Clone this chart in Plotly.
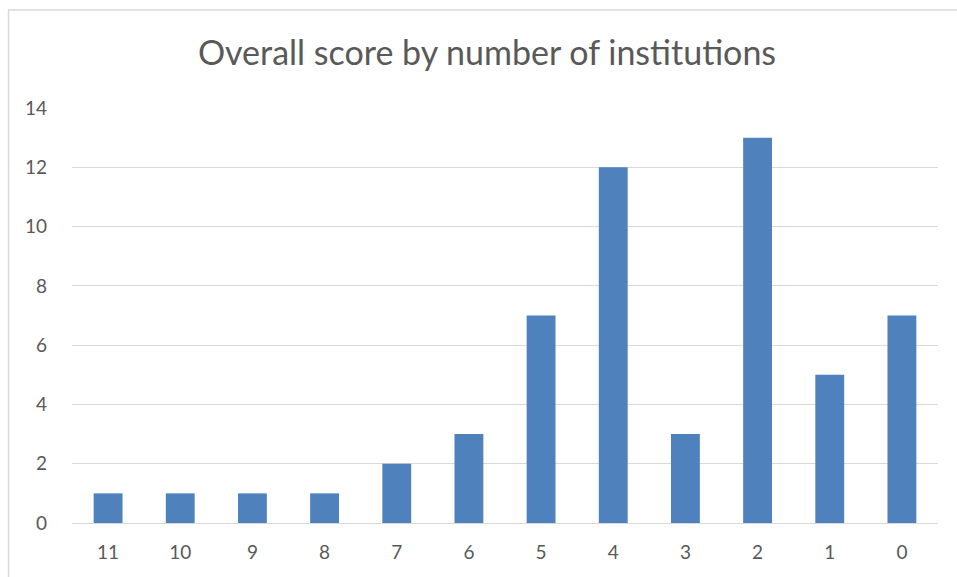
import plotly.graph_objects as go

categories = ["11", "10", "9", "8", "7", "6", "5", "4", "3", "2", "1", "0"]
values = [1, 1, 1, 1, 2, 3, 7, 12, 3, 13, 5, 7]
title_text = "Overall score by number of institutions"

W, H = 957, 577
L, R, T, B = 72, 19, 108, 54
pw, ph = W - L - R, H - T - B

def px_x(x):
    return (x - L) / pw

def px_y(y):
    return (H - B - y) / ph

fig = go.Figure(go.Bar(x=categories, y=values, marker_color="#4f81bd",
                       marker_line_width=0))

border = "#d9d9d9"
fig.add_shape(type="line", xref="paper", yref="paper",
              x0=px_x(8.5), x1=px_x(8.5), y0=px_y(10), y1=px_y(600),
              line=dict(color=border, width=1.5))
fig.add_shape(type="line", xref="paper", yref="paper",
              x0=px_x(8), x1=px_x(970), y0=px_y(10), y1=px_y(10),
              line=dict(color=border, width=1.5))

fig.update_layout(
    width=W, height=H,
    margin=dict(l=L, r=R, t=T, b=B),
    paper_bgcolor="white", plot_bgcolor="white",
    bargap=0.6,
    showlegend=False,
    font=dict(family="Lato, Open Sans, sans-serif", color="#595959", size=19),
    title=dict(text=title_text, x=487 / W, xref="container", xanchor="center",
               y=1 - 53 / H, yanchor="middle",
               font=dict(size=34, color="#595959")),
    xaxis=dict(type="category", showgrid=False, showline=True,
               linecolor="#d9d9d9", linewidth=1, ticks="",
               ticklabelstandoff=12, tickfont=dict(size=19)),
    yaxis=dict(range=[0, 14], dtick=2, showgrid=True, gridcolor="#d9d9d9",
               gridwidth=1, zeroline=False, showline=False, ticks="",
               ticklabelstandoff=24, tickfont=dict(size=19)),
)

fig.write_html("out.html", config={"displayModeBar": False},
               post_script="document.body.style.margin='0';document.body.style.overflow='hidden';")
